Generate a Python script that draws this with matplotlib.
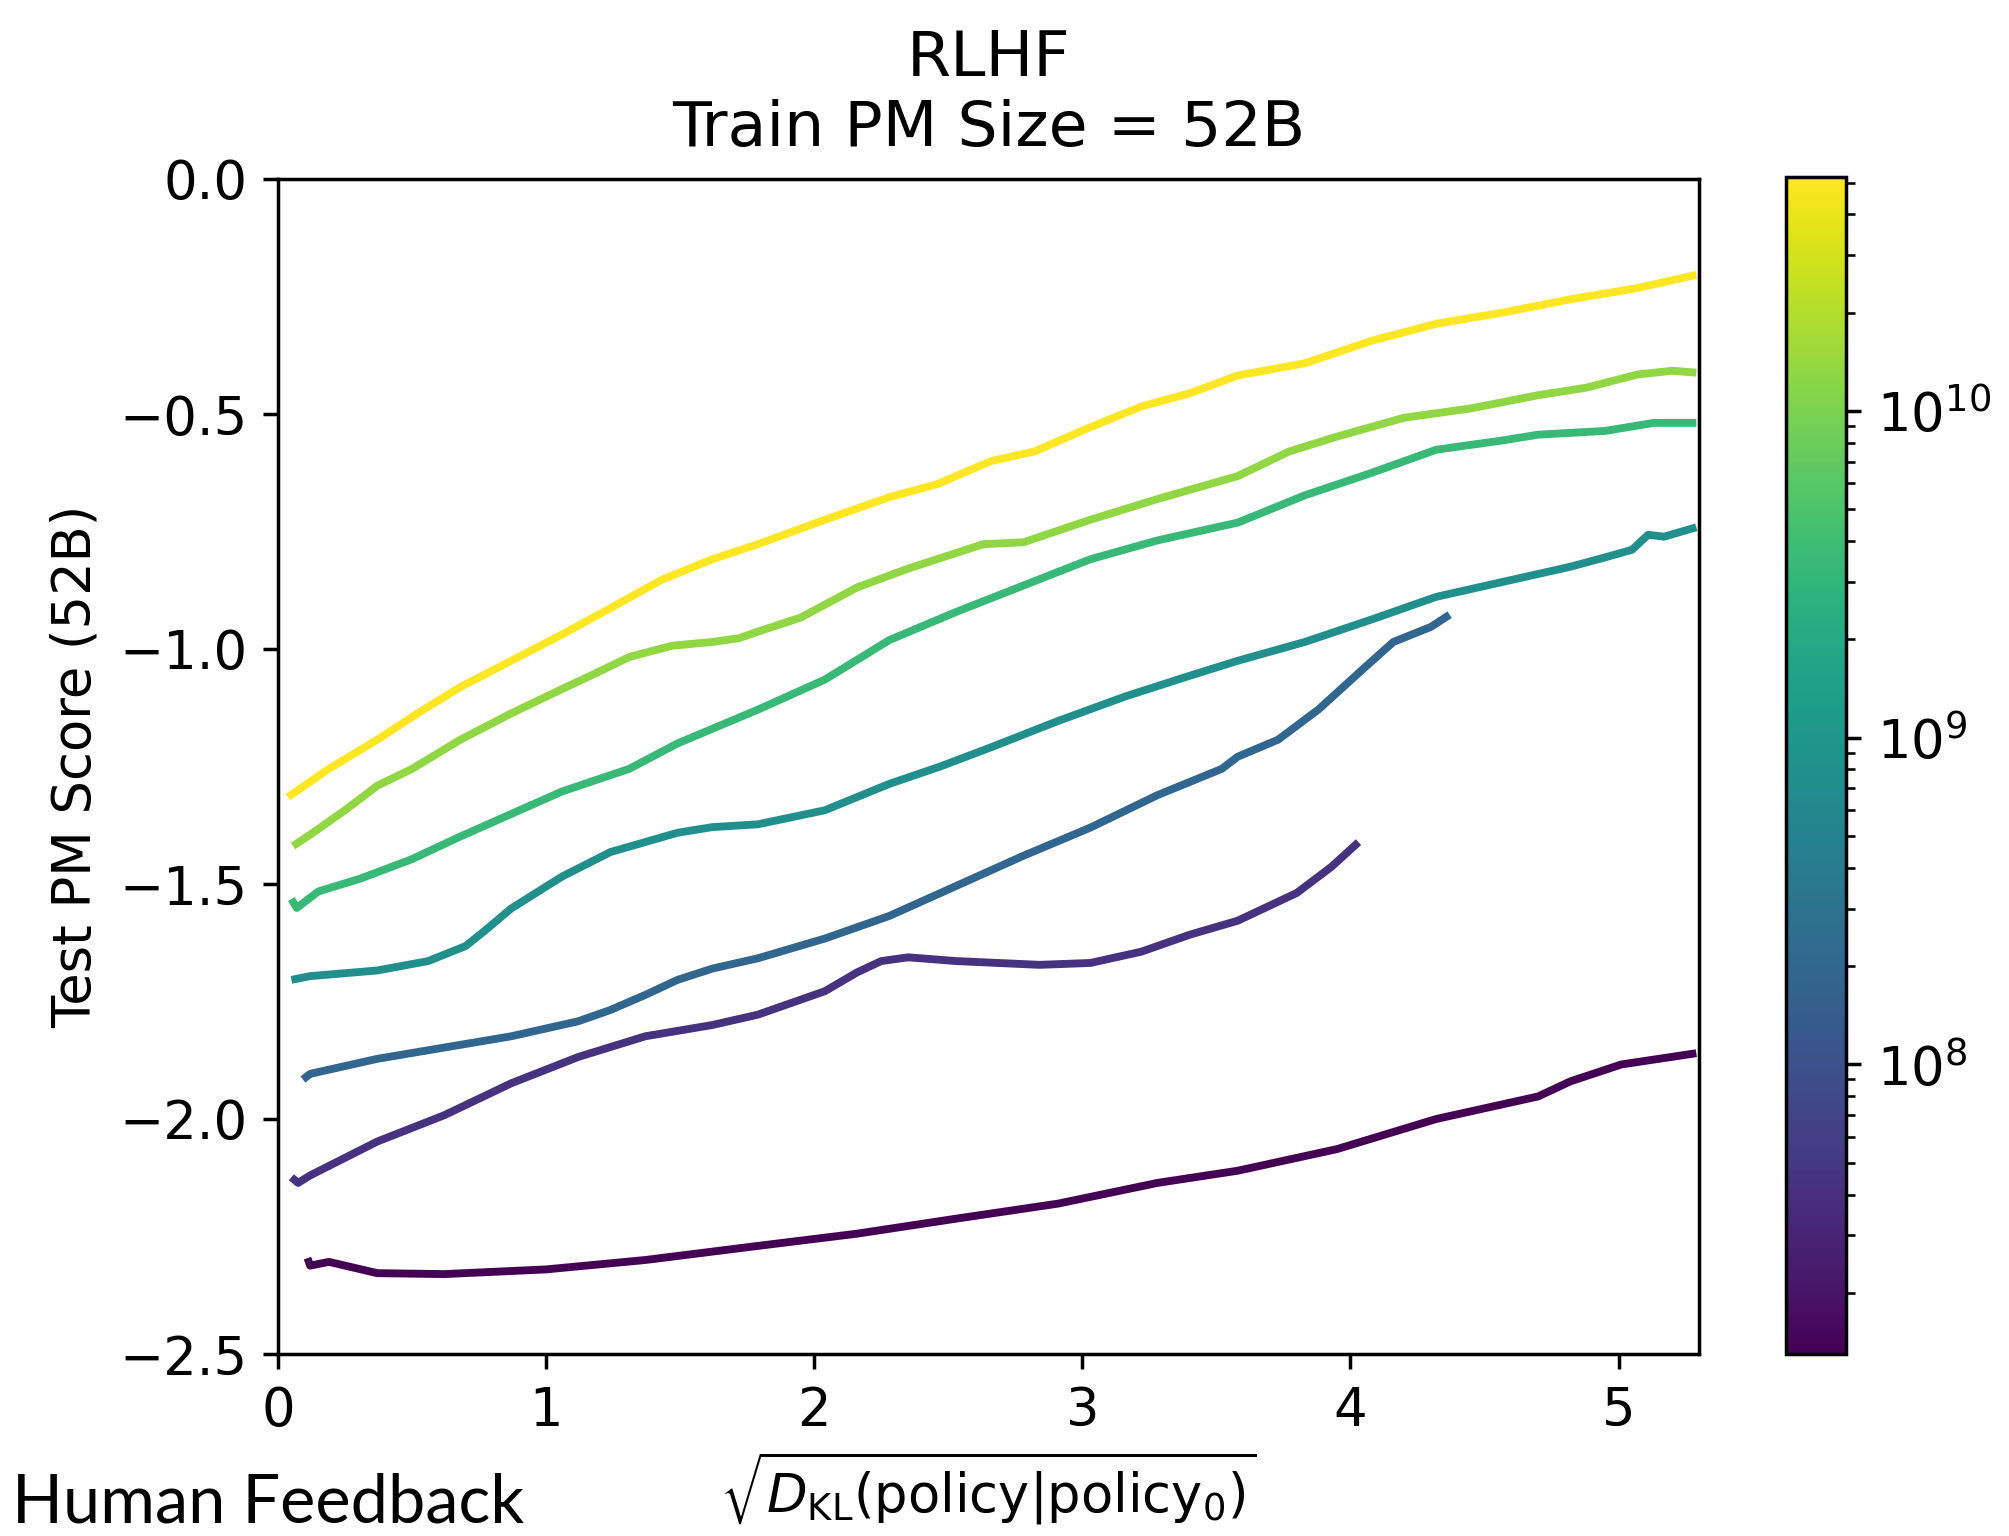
import matplotlib
matplotlib.use("Agg")
import matplotlib.pyplot as plt
import numpy as np
from matplotlib.colors import LogNorm
from matplotlib.cm import ScalarMappable

# policy model sizes (parameters), one curve each
model_sizes = [13e6, 42e6, 197e6, 810e6, 3.5e9, 13e9, 52e9]

x_13m = [0.11, 0.12, 0.19, 0.37, 0.62, 1.0, 1.37, 1.79, 2.16, 2.53, 2.91, 3.28, 3.58, 3.95, 4.32, 4.70, 4.82, 5.01, 5.29]
y_13m = [-2.296, -2.312, -2.304, -2.328, -2.330, -2.320, -2.300, -2.270, -2.244, -2.212, -2.180, -2.136, -2.110,
         -2.064, -2.000, -1.952, -1.920, -1.884, -1.860]

x_42m = [0.05, 0.075, 0.12, 0.37, 0.62, 0.87, 1.12, 1.37, 1.62, 1.79, 2.04, 2.16, 2.25, 2.35, 2.53, 2.84, 3.03,
         3.22, 3.40, 3.58, 3.80, 3.93, 4.03]
y_42m = [-2.124, -2.136, -2.120, -2.048, -1.992, -1.924, -1.868, -1.824, -1.800, -1.778, -1.728, -1.688, -1.664,
         -1.656, -1.664, -1.672, -1.668, -1.644, -1.608, -1.578, -1.519, -1.463, -1.411]

x_197m = [0.093, 0.12, 0.37, 0.62, 0.87, 1.12, 1.24, 1.37, 1.49, 1.62, 1.79, 2.04, 2.28, 2.53, 2.78, 3.03, 3.28,
          3.52, 3.58, 3.73, 3.88, 4.05, 4.16, 4.30, 4.37]
y_197m = [-1.916, -1.904, -1.872, -1.848, -1.824, -1.792, -1.768, -1.736, -1.704, -1.680, -1.658, -1.616, -1.568,
          -1.504, -1.440, -1.380, -1.311, -1.255, -1.229, -1.193, -1.129, -1.041, -0.985, -0.953, -0.927]

x_810m = [0.05, 0.12, 0.37, 0.56, 0.70, 0.77, 0.87, 1.06, 1.24, 1.49, 1.62, 1.79, 2.04, 2.28, 2.47, 2.66, 2.91,
          3.16, 3.40, 3.58, 3.83, 4.08, 4.32, 4.57, 4.82, 4.95, 5.05, 5.11, 5.17, 5.29]
y_810m = [-1.704, -1.696, -1.684, -1.664, -1.632, -1.600, -1.552, -1.484, -1.432, -1.391, -1.379, -1.373, -1.343,
          -1.287, -1.250, -1.209, -1.153, -1.101, -1.057, -1.025, -0.985, -0.937, -0.889, -0.857, -0.825, -0.805,
          -0.789, -0.757, -0.761, -0.741]

x_3b = [0.05, 0.07, 0.15, 0.31, 0.50, 0.68, 0.87, 1.06, 1.31, 1.49, 1.79, 2.04, 2.28, 2.53, 2.78, 3.03, 3.28,
        3.58, 3.83, 4.08, 4.32, 4.57, 4.70, 4.95, 5.13, 5.29]
y_3b = [-1.532, -1.551, -1.516, -1.488, -1.447, -1.399, -1.351, -1.303, -1.255, -1.201, -1.129, -1.065, -0.981,
        -0.921, -0.865, -0.809, -0.769, -0.731, -0.673, -0.625, -0.576, -0.556, -0.544, -0.536, -0.519, -0.519]

x_13b = [0.056, 0.12, 0.25, 0.37, 0.50, 0.68, 0.87, 1.06, 1.18, 1.31, 1.47, 1.62, 1.72, 1.79, 1.95, 2.16, 2.35,
         2.63, 2.78, 3.03, 3.28, 3.58, 3.77, 3.95, 4.20, 4.45, 4.70, 4.88, 5.07, 5.20, 5.29]
y_13b = [-1.419, -1.395, -1.343, -1.291, -1.255, -1.193, -1.137, -1.085, -1.053, -1.017, -0.993, -0.985, -0.977,
         -0.963, -0.933, -0.869, -0.829, -0.777, -0.773, -0.725, -0.681, -0.632, -0.580, -0.548, -0.508, -0.488,
         -0.460, -0.444, -0.416, -0.408, -0.412]

x_52b = [0.037, 0.19, 0.37, 0.52, 0.68, 0.87, 1.06, 1.24, 1.43, 1.62, 1.79, 2.04, 2.28, 2.46, 2.66, 2.82, 3.03,
         3.22, 3.40, 3.58, 3.83, 4.08, 4.32, 4.57, 4.82, 5.07, 5.29]
y_52b = [-1.315, -1.255, -1.193, -1.137, -1.081, -1.025, -0.969, -0.913, -0.853, -0.809, -0.777, -0.725, -0.677,
         -0.649, -0.600, -0.580, -0.528, -0.484, -0.456, -0.418, -0.392, -0.344, -0.308, -0.284, -0.256, -0.232,
         -0.204]

curves_x = [x_13m, x_42m, x_197m, x_810m, x_3b, x_13b, x_52b]
curves_y = [y_13m, y_42m, y_197m, y_810m, y_3b, y_13b, y_52b]

s = 3.14   # scale from a default-size matplotlib figure
fs = 3.8   # text looks a bit bigger than that
fig = plt.figure(figsize=(20.09, 15.36), dpi=100)
ax = fig.add_axes([278 / 2009, 1 - 1354 / 1536, 1421 / 2009, 1175 / 1536])
cax = fig.add_axes([1786 / 2009, 1 - 1354 / 1536, 60 / 2009, 1177 / 1536])

norm = LogNorm(vmin=13e6, vmax=52e9)
cmap = plt.get_cmap("viridis")

for size, xs, ys in zip(model_sizes, curves_x, curves_y):
    ax.plot(xs, ys, color=cmap(norm(size)), lw=1.8 * s, solid_capstyle="butt")

ax.set_xlim(0, 5.3)
ax.set_ylim(-2.5, 0.0)
ax.set_xticks([0, 1, 2, 3, 4, 5])
ax.set_yticks([-2.5, -2.0, -1.5, -1.0, -0.5, 0.0])
ax.tick_params(labelsize=10 * fs, length=3.5 * s, width=0.8 * s, pad=3.5 * s)
for sp in ax.spines.values():
    sp.set_linewidth(0.8 * s)

ax.set_title("RLHF\nTrain PM Size = 52B", fontsize=12 * fs, pad=24)
ax.set_ylabel("Test PM Score (52B)", fontsize=10 * fs, labelpad=4 * s)
ax.set_xlabel(r"$\sqrt{D_{\mathrm{KL}}(\mathrm{policy}|\mathrm{policy}_0)}$", fontsize=10 * fs, labelpad=3 * s)

sm = ScalarMappable(norm=norm, cmap=cmap)
cb = fig.colorbar(sm, cax=cax)
cb.outline.set_linewidth(0.8 * s)
cax.tick_params(which="major", labelsize=10 * fs, length=3.5 * s, width=0.8 * s, pad=3.5 * s)
cax.tick_params(which="minor", length=2 * s, width=0.6 * s)

fig.text(0.006, 0.001, "Human Feedback", fontsize=48, family="Lato", va="bottom", ha="left")

fig.savefig("out.png", dpi=100)
